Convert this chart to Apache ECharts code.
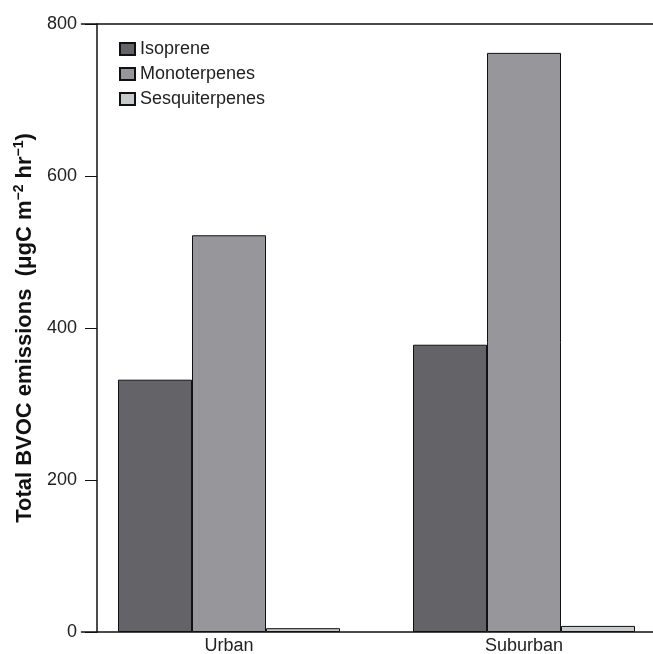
<!DOCTYPE html>
<html>
<head>
<meta charset="utf-8">
<script src="https://cdn.jsdelivr.net/npm/echarts@6/dist/echarts.min.js"></script>
<style>
  html, body { margin: 0; padding: 0; background: #fff; }
  #chart { width: 653px; height: 654px; }
</style>
</head>
<body>
<div id="chart"></div>
<script>
// values
var sites = ["Urban", "Suburban"];
var isoprene = [332, 378];
var monoterpenes = [522, 762];
var sesquiterpenes = [5, 8];
var yTicks = [0, 200, 400, 600, 800];

var chart = echarts.init(document.getElementById("chart"));

var font = "Liberation Sans, Arial, sans-serif";

function barSeries(name, data, color) {
  return {
    name: name,
    type: "bar",
    data: data,
    barWidth: 74,
    barGap: "0%",
    itemStyle: { color: color, borderColor: "#111", borderWidth: 1 }
  };
}

var option = {
  animation: false,
  textStyle: { fontFamily: font },
  // plot runs past the right edge like in the figure
  grid: { left: 81.5, top: 24, right: -18.5, bottom: 22, outerBoundsMode: "none", containLabel: false },
  legend: {
    orient: "vertical",
    left: 114,
    top: 35,
    itemWidth: 15,
    itemHeight: 12,
    itemGap: 7,
    icon: "rect",
    textStyle: { fontSize: 18, color: "#222", fontFamily: font },
    data: ["Isoprene", "Monoterpenes", "Sesquiterpenes"]
  },
  xAxis: [
    {
      type: "category",
      data: sites,
      axisLine: { lineStyle: { color: "#111", width: 1.5 } },
      axisTick: { show: false },
      axisLabel: { fontSize: 18, color: "#222", margin: 5 }
    },
    {
      type: "category",
      data: sites,
      position: "top",
      axisLine: { onZero: false, lineStyle: { color: "#111", width: 1.5 } },
      axisTick: { show: false },
      axisLabel: { show: false }
    }
  ],
  yAxis: {
    type: "value",
    min: yTicks[0],
    max: yTicks[yTicks.length - 1],
    interval: 200,
    offset: -15.5,
    splitLine: { show: false },
    axisLine: { show: true, lineStyle: { color: "#111", width: 1.5 } },
    axisTick: { show: true, length: 12, lineStyle: { color: "#111" } },
    axisLabel: { fontSize: 18, color: "#222", margin: 20 },
    name: "{b|Total BVOC emissions  (μgC m}{s|−2}{b| hr}{s|−1}{b|)}",
    nameLocation: "middle",
    nameGap: 56,
    nameTextStyle: {
      rich: {
        b: { fontSize: 22, fontWeight: "bold", color: "#111", fontFamily: font },
        s: { fontSize: 14, fontWeight: "bold", color: "#111", fontFamily: font, padding: [0, 0, 11, 0] }
      }
    }
  },
  series: [
    barSeries("Isoprene", isoprene, "#646468"),
    barSeries("Monoterpenes", monoterpenes, "#97979b"),
    barSeries("Sesquiterpenes", sesquiterpenes, "#c8c9cb")
  ]
};

chart.setOption(option);
</script>
</body>
</html>
